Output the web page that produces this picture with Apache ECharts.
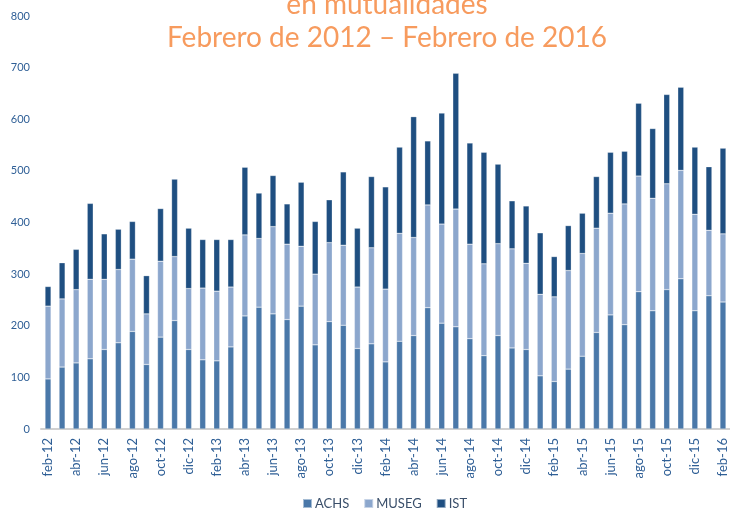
<!DOCTYPE html>
<html>
<head>
<meta charset="utf-8">
<script src="https://cdn.jsdelivr.net/npm/echarts@6/dist/echarts.min.js"></script>
<style>
  html, body { margin: 0; padding: 0; background: #fff; }
  #chart { width: 730px; height: 514px; }
</style>
</head>
<body>
<div id="chart"></div>
<script>
var months = ['feb','mar','abr','may','jun','jul','ago','sep','oct','nov','dic','ene']
var categories = []
for (var i = 0; i < 49; i++) {
  var m = i % 12
  var yr = 12 + Math.floor((i + 1) / 12)
  categories.push(months[m] + '-' + yr)
}

var achs = [97, 120, 128, 136, 154, 167, 189, 125, 178, 210, 154, 134, 132, 159, 219, 236, 223, 212, 238, 163,
  208, 201, 156, 165, 130, 170, 181, 235, 205, 198, 175, 142, 181, 157, 154, 103, 92, 116, 141, 187,
  221, 202, 266, 229, 270, 291, 229, 258, 246]
var museg = [141, 132, 142, 154, 136, 142, 140, 98, 147, 124, 118, 139, 135, 116, 157, 133, 169, 146, 116, 137,
  153, 155, 119, 186, 141, 209, 190, 199, 192, 228, 183, 178, 178, 192, 167, 158, 164, 191, 199, 202,
  197, 234, 224, 218, 205, 210, 187, 127, 132]
var ist = [38, 70, 78, 147, 88, 78, 73, 74, 102, 150, 117, 94, 100, 92, 131, 88, 99, 78, 124, 102,
  83, 142, 114, 138, 198, 167, 234, 124, 215, 263, 196, 216, 154, 93, 111, 119, 78, 87, 78, 100,
  118, 102, 141, 135, 173, 161, 130, 123, 166]
var yTicks = [0, 800, 100]

var seriesDefs = [
  { name: 'ACHS', data: achs, color: '#4a78a9' },
  { name: 'MUSEG', data: museg, color: '#8ca7cd' },
  { name: 'IST', data: ist, color: '#1f4f81' }
]

var series = seriesDefs.map(function (s) {
  return {
    name: s.name,
    type: 'bar',
    stack: 'total',
    barWidth: 6,
    data: s.data,
    itemStyle: { color: s.color, borderColor: 'rgba(255,255,255,0.5)', borderWidth: 0.5 }
  }
})

var option = {
  backgroundColor: '#ffffff',
  animation: false,
  title: {
    text: 'en mutualidades\nFebrero de 2012 – Febrero de 2016',
    left: 382,
    textAlign: 'center',
    top: -17,
    textStyle: {
      color: '#f79b5e',
      fontFamily: 'Lato',
      fontWeight: 'normal',
      fontSize: 28,
      lineHeight: 33
    }
  },
  legend: {
    bottom: -1,
    left: 297,
    itemWidth: 9,
    itemHeight: 9,
    itemGap: 14,
    icon: 'rect',
    textStyle: { color: '#3a4f6a', fontFamily: 'Lato', fontSize: 13, padding: [0, 0, 0, -2] },
    data: ['ACHS', 'MUSEG', 'IST']
  },
  grid: {
    left: 41,
    right: 0,
    top: 16,
    bottom: 85
  },
  xAxis: {
    type: 'category',
    data: categories,
    axisLine: { lineStyle: { color: '#d0d0d0', width: 2 } },
    axisTick: { interval: 1, length: 5, lineStyle: { color: '#d0d0d0', width: 1.5 } },
    axisLabel: {
      interval: 1,
      rotate: 90,
      color: '#2f5f96',
      fontFamily: 'Lato',
      fontSize: 13,
      margin: 9
    }
  },
  yAxis: {
    type: 'value',
    min: yTicks[0],
    max: yTicks[1],
    interval: yTicks[2],
    splitLine: { show: false },
    axisLine: { show: false },
    axisTick: { show: false },
    axisLabel: { color: '#2f5f96', fontFamily: 'Lato', fontSize: 11, margin: 11 }
  },
  series: series
}

var myChart = echarts.init(document.getElementById('chart'))
myChart.setOption(option)
</script>
</body>
</html>
